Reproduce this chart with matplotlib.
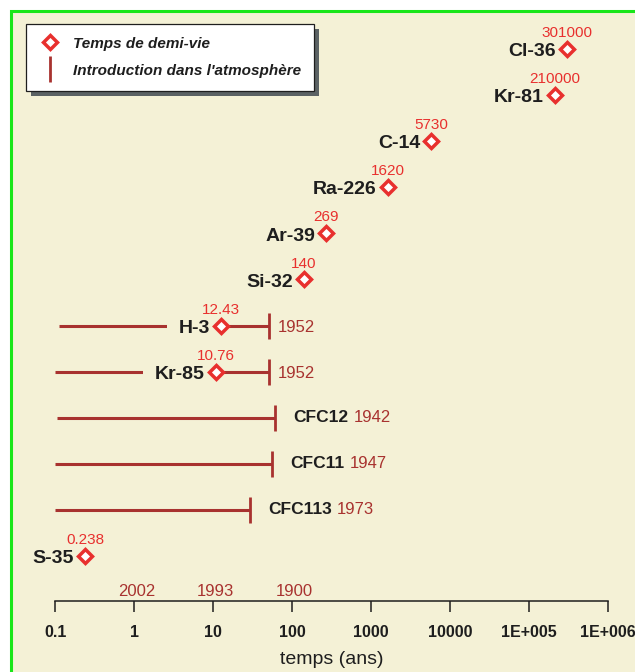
import numpy as np
import matplotlib.pyplot as plt
from matplotlib.lines import Line2D
from matplotlib.patches import Rectangle

plt.rcParams['font.family'] = ['Liberation Sans', 'DejaVu Sans']

# traceurs, de haut en bas
noms = ['Cl-36', 'Kr-81', 'C-14', 'Ra-226', 'Ar-39', 'Si-32', 'H-3', 'Kr-85',
        'CFC12', 'CFC11', 'CFC113', 'S-35']
demi_vie = np.array([301000, 210000, 5730, 1620, 269, 140, 12.43, 10.76,
                     np.nan, np.nan, np.nan, 0.238])
etiq_demi_vie = ['301000', '210000', '5730', '1620', '269', '140', '12.43', '10.76',
                 '', '', '', '0.238']
annee_intro = np.array([np.nan] * 6 + [1952, 1952, 1942, 1947, 1973] + [np.nan])
debut_ligne = np.array([np.nan] * 6 + [0.11, 0.1, 0.105, 0.1, 0.1] + [np.nan])
annee_ref = 2002

ticks = [0.1, 1, 10, 100, 1000, 10000, 1e5, 1e6]
tick_labels = ['0.1', '1', '10', '100', '1000', '10000', '1E+005', '1E+006']
annees_axe = ['2002', '1993', '1900']
pos_annees_axe = [1, 10, 100]

rouge = '#e8302e'
brun = '#a8322f'
creme = '#f4f1d6'
noir = '#1e1e1e'

fig = plt.figure(figsize=(6.35, 6.72), dpi=100, facecolor='white')
# cadre vert avec fond crème
fig.add_artist(Rectangle((11 / 635, -0.1), 1.2, 1 - 11 / 672 + 0.1,
                         transform=fig.transFigure, facecolor=creme,
                         edgecolor='#19e619', lw=2.2, zorder=-2))

ax = fig.add_axes([55.3 / 635, 1 - 601 / 672, 553 / 635, 587 / 672])
ax.set_facecolor('none')
ax.set_xscale('log')
ax.set_xlim(0.1, 1e6)
ax.set_ylim(-0.976, 11.76)

y = np.arange(len(noms))[::-1]

for i, nom in enumerate(noms):
    yi = y[i]
    a_ligne = not np.isnan(annee_intro[i])
    if a_ligne:
        age = annee_ref - annee_intro[i]
        ax.plot([debut_ligne[i], age], [yi, yi], color=brun, lw=2.2, zorder=2,
                solid_capstyle='butt')
        ax.plot(age, yi, marker='|', ms=18.7, mew=2, color=brun, zorder=2)
    if not np.isnan(demi_vie[i]):
        hl = demi_vie[i]
        ax.plot(hl, yi, 'D', ms=7.6, mew=2.5, mec=rouge, mfc='white', zorder=4)
        bbox = dict(boxstyle='square,pad=0.6', fc=creme, ec='none') if a_ligne else None
        ax.annotate(nom, (hl, yi), xytext=(-8, -0.5), textcoords='offset points',
                    ha='right', va='center_baseline', fontsize=14, fontweight='bold',
                    color=noir, bbox=bbox, zorder=3)
        ax.annotate(etiq_demi_vie[i], (hl, yi), xytext=(0, 11.5),
                    textcoords='offset points', ha='center', va='center',
                    fontsize=11, color=rouge, zorder=5)
        if a_ligne:
            ax.annotate(str(int(annee_intro[i])), (age, yi), xytext=(7, 0),
                        textcoords='offset points', ha='left', va='center_baseline',
                        fontsize=12, color=brun, zorder=5)
    else:
        t = ax.annotate(nom, (age, yi), xytext=(13, 0), textcoords='offset points',
                        ha='left', va='center', fontsize=12.5, fontweight='bold',
                        color=noir, zorder=3)
        ax.annotate(str(int(annee_intro[i])), (1, 0.5), xycoords=t, xytext=(4, 0),
                    textcoords='offset points', ha='left', va='center',
                    fontsize=12, color=brun, zorder=5)

for a, p in zip(annees_axe, pos_annees_axe):
    ax.annotate(a, (p, 0), xycoords=('data', 'axes fraction'), xytext=(1.5, 6.5),
                textcoords='offset points', ha='center', va='center',
                fontsize=12, color=brun, annotation_clip=False)

# axes
for s in ['top', 'left', 'right']:
    ax.spines[s].set_visible(False)
ax.spines['bottom'].set_color(noir)
ax.spines['bottom'].set_linewidth(1.1)
ax.set_yticks([])
ax.set_xticks(ticks)
ax.set_xticklabels(tick_labels, fontweight='bold', fontsize=11.5, color=noir)
ax.minorticks_off()
ax.tick_params(axis='x', length=8, width=1.1, color=noir, direction='out', pad=9)
ax.set_xlabel('temps (ans)', fontsize=14, color=noir, labelpad=8.3)

# légende
h1 = Line2D([], [], ls='none', marker='D', ms=7.6, mew=2.5, mec=rouge, mfc='white')
h2 = Line2D([], [], ls='none', marker='|', ms=19, mew=2, color=brun)
leg = ax.legend([h1, h2], ['Temps de demi-vie', "Introduction dans l'atmosphère"],
                loc='upper left', bbox_to_anchor=(26 / 635, 1 - 24 / 672),
                bbox_transform=fig.transFigure, borderaxespad=0, fancybox=False,
                edgecolor=noir, framealpha=1,
                prop=dict(weight='bold', style='italic', size=11),
                borderpad=0.83, handlelength=1.5, handletextpad=0.75, labelspacing=0.86)
leg.get_frame().set_linewidth(0.9)
for t in leg.get_texts():
    t.set_color(noir)

fig.canvas.draw()
bb = leg.get_window_extent()
fig.add_artist(Rectangle((bb.x0 + 5, bb.y0 - 5), bb.width, bb.height, transform=None,
                         facecolor='#5b6264', edgecolor='none', zorder=-1))

fig.savefig('out.png', dpi=100)
